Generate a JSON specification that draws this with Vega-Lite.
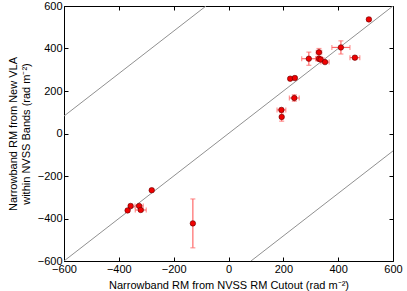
{
  "$schema": "https://vega.github.io/schema/vega-lite/v6.json",
  "width": 329,
  "height": 255,
  "autosize": "none",
  "padding": {"left": 64, "top": 6, "right": 14, "bottom": 30},
  "background": "white",
  "config": {
    "view": {"stroke": "black", "strokeWidth": 1},
    "font": "Liberation Sans",
    "axis": {
      "labelFont": "Liberation Sans",
      "titleFont": "Liberation Sans",
      "labelFontSize": 11,
      "titleFontSize": 11,
      "titleFontWeight": "normal",
      "labelColor": "black",
      "titleColor": "black",
      "tickColor": "black",
      "domain": false,
      "grid": false,
      "tickSize": -4,
      "labelPadding": 6,
      "labelFlush": false,
      "labelOverlap": false
    }
  },
  "datasets": {
    "pts": [
      {"x": 512, "y": 537, "xerr": 6, "yerr": 6},
      {"x": 410, "y": 405, "xerr": 33, "yerr": 31},
      {"x": 461, "y": 357, "xerr": 18, "yerr": 8},
      {"x": 293, "y": 352, "xerr": 26, "yerr": 31},
      {"x": 330, "y": 382, "xerr": 10, "yerr": 18},
      {"x": 330, "y": 352, "xerr": 12, "yerr": 10},
      {"x": 336, "y": 348, "xerr": 12, "yerr": 8},
      {"x": 352, "y": 336, "xerr": 15, "yerr": 6},
      {"x": 225, "y": 258, "xerr": 5, "yerr": 5},
      {"x": 242, "y": 261, "xerr": 6, "yerr": 5},
      {"x": 240, "y": 167, "xerr": 18, "yerr": 15},
      {"x": 193, "y": 111, "xerr": 16, "yerr": 8},
      {"x": 194, "y": 78, "xerr": 5, "yerr": 20},
      {"x": -280, "y": -267, "xerr": 5, "yerr": 5},
      {"x": -357, "y": -341, "xerr": 6, "yerr": 5},
      {"x": -368, "y": -362, "xerr": 5, "yerr": 5},
      {"x": -326, "y": -341, "xerr": 15, "yerr": 6},
      {"x": -320, "y": -360, "xerr": 20, "yerr": 6},
      {"x": -130, "y": -423, "xerr": 5, "yerr": 115}
    ],
    "lines": [
      {"line": "a", "x": -600, "y": -600},
      {"line": "a", "x": 600, "y": 600},
      {"line": "b", "x": -600, "y": 82},
      {"line": "b", "x": -82, "y": 600},
      {"line": "c", "x": 82, "y": -600},
      {"line": "c", "x": 600, "y": -82}
    ]
  },
  "layer": [
    {
      "data": {"name": "lines"},
      "mark": {"type": "line", "color": "#909090", "strokeWidth": 1, "clip": true},
      "encoding": {
        "x": {"field": "x", "type": "quantitative", "scale": {"domain": [-600, 600], "nice": false, "zero": false},
          "axis": {"orient": "bottom", "values": [-600, -400, -200, 0, 200, 400, 600], "title": "Narrowband RM from NVSS RM Cutout (rad m⁻²)", "titlePadding": 5}},
        "y": {"field": "y", "type": "quantitative", "scale": {"domain": [-600, 600], "nice": false, "zero": false},
          "axis": {"orient": "left", "values": [-600, -400, -200, 0, 200, 400, 600], "title": ["Narrowband RM from New VLA", "within NVSS Bands (rad m⁻²)"], "titlePadding": 6}},
        "detail": {"field": "line"}
      }
    },
    {
      "data": {"name": "pts"},
      "mark": {"type": "errorbar", "color": "#ff6a6a", "ticks": {"size": 5}, "thickness": 1.2},
      "encoding": {
        "x": {"field": "x", "type": "quantitative", "scale": {"domain": [-600, 600], "nice": false, "zero": false}, "axis": null},
        "xError": {"field": "xerr"},
        "y": {"field": "y", "type": "quantitative", "scale": {"domain": [-600, 600], "nice": false, "zero": false}, "axis": null}
      }
    },
    {
      "data": {"name": "pts"},
      "mark": {"type": "errorbar", "color": "#ff6a6a", "ticks": {"size": 5}, "thickness": 1.2},
      "encoding": {
        "y": {"field": "y", "type": "quantitative", "scale": {"domain": [-600, 600], "nice": false, "zero": false}, "axis": null},
        "yError": {"field": "yerr"},
        "x": {"field": "x", "type": "quantitative", "scale": {"domain": [-600, 600], "nice": false, "zero": false}, "axis": null}
      }
    },
    {
      "data": {"name": "pts"},
      "mark": {"type": "point", "filled": true, "shape": "circle", "size": 30, "fill": "#f00000", "stroke": "#600000", "strokeWidth": 0.6, "opacity": 1},
      "encoding": {
        "x": {"field": "x", "type": "quantitative", "scale": {"domain": [-600, 600], "nice": false, "zero": false},
          "axis": {"orient": "top", "values": [-600, -400, -200, 0, 200, 400, 600], "labels": false, "title": null}},
        "y": {"field": "y", "type": "quantitative", "scale": {"domain": [-600, 600], "nice": false, "zero": false},
          "axis": {"orient": "right", "values": [-600, -400, -200, 0, 200, 400, 600], "labels": false, "title": null}}
      }
    }
  ],
  "resolve": {"axis": {"x": "independent", "y": "independent"}}
}
